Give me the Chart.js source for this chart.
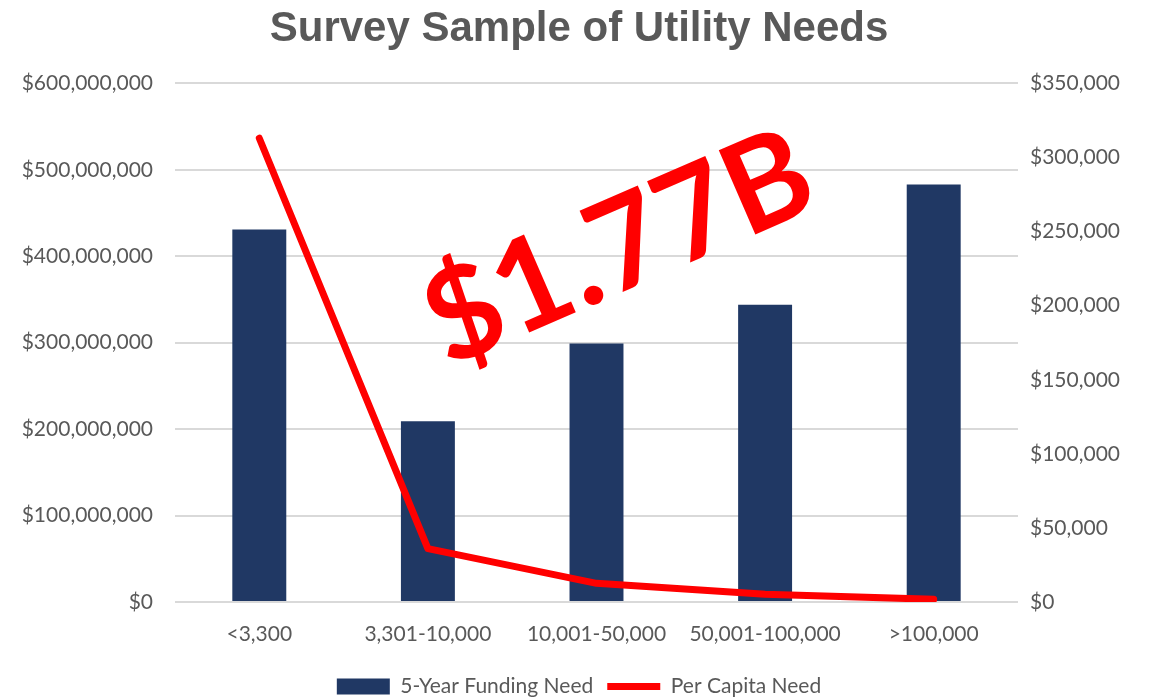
<!DOCTYPE html>
<html>
<head>
<meta charset="utf-8">
<script src="https://cdn.jsdelivr.net/npm/chart.js@4"></script>
<style>
  body { margin: 0; background: #fff; }
  #wrap { width: 1158px; height: 698px; position: relative; }
</style>
</head>
<body>
<div id="wrap"><canvas id="myChart"></canvas></div>
<script>
// 1 DATA
const categories = ['<3,300', '3,301-10,000', '10,001-50,000', '50,001-100,000', '>100,000'];
const fundingNeed = [431000000, 209000000, 299000000, 344000000, 483000000];
const perCapitaNeed = [313000, 36000, 12600, 5200, 1800];
const totalLabel = '$1.77B';

const gray = '#595959';
const tickFont = { family: 'Lato', size: 21 };

// 2 BIG STAMP TEXT
const stampPlugin = {
    id: 'stamp',
    afterDraw(chart) {
        const ctx = chart.ctx;
        ctx.save();
        ctx.translate(619, 249);
        ctx.rotate(-23.5 * Math.PI / 180);
        ctx.font = 'bold 127px Lato';
        ctx.fillStyle = '#ff0000';
        ctx.textAlign = 'center';
        ctx.textBaseline = 'middle';
        ctx.fillText(totalLabel, 0, 0);
        ctx.restore();
    }
};

const money = v => '$' + Number(v).toLocaleString('en-US');

// 3 CHART
const ctx = document.querySelector('#myChart').getContext('2d');
const myChart = new Chart(ctx, {
    data: {
        labels: categories,
        datasets: [{
            type: 'line',
            label: 'Per Capita Need',
            data: perCapitaNeed,
            yAxisID: 'y2',
            borderColor: '#ff0000',
            backgroundColor: '#ff0000',
            borderWidth: 7,
            borderCapStyle: 'round',
            borderJoinStyle: 'round',
            pointRadius: 0,
            pointStyle: 'line',
            tension: 0,
            order: 0
        }, {
            type: 'bar',
            label: '5-Year Funding Need',
            data: fundingNeed,
            yAxisID: 'y',
            backgroundColor: '#203864',
            borderWidth: 0,
            pointStyle: 'rect',
            barPercentage: 0.32,
            categoryPercentage: 1,
            order: 1
        }]
    },
    options: {
        responsive: true,
        maintainAspectRatio: false,
        animation: false,
        layout: { padding: { top: 0, bottom: -9, left: 0, right: 0 } },
        plugins: {
            title: {
                display: true,
                text: 'Survey Sample of Utility Needs',
                color: gray,
                font: { family: 'Liberation Sans', size: 42, weight: 'bold' },
                padding: { top: 4, bottom: 29 }
            },
            legend: {
                position: 'bottom',
                reverse: true,
                labels: {
                    color: gray,
                    font: tickFont,
                    usePointStyle: true,
                    pointStyleWidth: 53,
                    boxHeight: 16,
                    padding: 14
                }
            },
            tooltip: { enabled: false }
        },
        scales: {
            x: {
                grid: { display: false, drawTicks: false },
                border: { display: false },
                ticks: { color: gray, font: tickFont, padding: 20 },
                afterFit: s => { s.height = 60; }
            },
            y: {
                position: 'left',
                min: 0, max: 600000000,
                ticks: { stepSize: 100000000, color: gray, font: tickFont, padding: 22, callback: money },
                grid: { color: '#d9d9d9', lineWidth: 2, drawTicks: false },
                border: { display: false },
                afterFit: s => { s.width = 175; }
            },
            y2: {
                position: 'right',
                min: 0, max: 350000,
                ticks: { stepSize: 50000, color: gray, font: tickFont, padding: 12, callback: money },
                grid: { display: false, drawTicks: false },
                border: { display: false },
                afterFit: s => { s.width = 140; }
            }
        }
    },
    plugins: [stampPlugin]
});
</script>
</body>
</html>
